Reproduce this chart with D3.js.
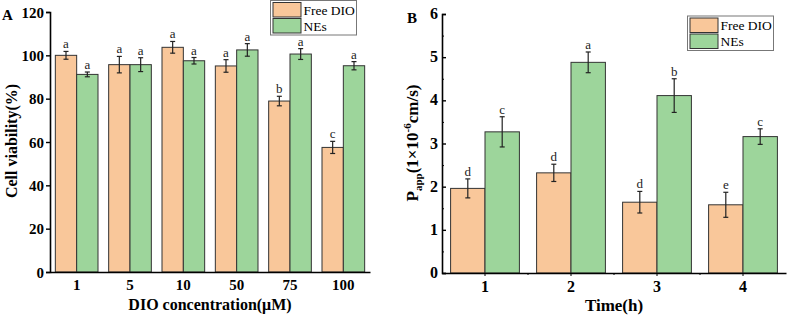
<!DOCTYPE html>
<html>
<head>
<meta charset="utf-8">
<script src="https://cdn.jsdelivr.net/npm/d3@7.9.0/dist/d3.min.js"></script>
<style>
  body { margin: 0; background: #fff; }
  svg { display: block; font-family: "Liberation Serif", "Times New Roman", serif; }
</style>
</head>
<body>
<div id="chart"></div>
<script>
// ---- data ----
const series = ["Free DIO", "NEs"];
const colors = ["#F9C79A", "#9DD59B"];

const concentrations = ["1", "5", "10", "50", "75", "100"];
const viabilityFree = [100, 95.7, 103.7, 95.1, 78.9, 57.5];
const viabilityFreeErr = [1.8, 3.8, 2.7, 2.9, 2.2, 2.8];
const viabilityNEs = [91.2, 95.7, 97.5, 102.5, 100.6, 95.2];
const viabilityNEsErr = [1.1, 3.2, 1.5, 2.9, 2.5, 1.9];
const viabilityFreeSig = ["a", "a", "a", "a", "b", "c"];
const viabilityNEsSig = ["a", "a", "a", "a", "a", "a"];
const viabilityTicks = [0, 20, 40, 60, 80, 100, 120];

const times = ["1", "2", "3", "4"];
const pappFree = [1.96, 2.32, 1.64, 1.58];
const pappFreeErr = [0.22, 0.2, 0.25, 0.29];
const pappNEs = [3.27, 4.88, 4.11, 3.16];
const pappNEsErr = [0.35, 0.24, 0.39, 0.18];
const pappFreeSig = ["d", "d", "d", "e"];
const pappNEsSig = ["c", "a", "b", "c"];
const pappTicks = [0, 1, 2, 3, 4, 5, 6];

const svg = d3.select("#chart").append("svg")
    .attr("width", 787)
    .attr("height", 316);

function rows(cats, v1, e1, s1, v2, e2, s2) {
    return cats.map((c, i) => ({
        cat: c,
        vals: [
            { key: series[0], value: v1[i], err: e1[i], sig: s1[i] },
            { key: series[1], value: v2[i], err: e2[i], sig: s2[i] }
        ]
    }));
}

function drawPanel(opt) {
    const g = svg.append("g");
    const x0 = d3.scaleBand()
        .domain(opt.data.map(d => d.cat))
        .range([opt.left, opt.right])
        .paddingInner(0.2)
        .paddingOuter(0.1);
    const x1 = d3.scaleBand()
        .domain(series)
        .range([0, x0.bandwidth()]);
    const y = d3.scaleLinear()
        .domain(opt.yDomain)
        .range([opt.bottom, opt.top]);

    const groups = g.selectAll(".grp")
        .data(opt.data)
        .join("g")
        .attr("transform", d => `translate(${x0(d.cat)},0)`);

    groups.selectAll("rect")
        .data(d => d.vals)
        .join("rect")
        .attr("x", d => x1(d.key))
        .attr("y", d => y(d.value))
        .attr("width", x1.bandwidth())
        .attr("height", d => y(0) - y(d.value))
        .attr("fill", (d, i) => colors[i])
        .attr("stroke", "#333")
        .attr("stroke-width", 1);

    // error bars
    const eb = groups.selectAll(".eb")
        .data(d => d.vals)
        .join("g")
        .attr("stroke", "#222")
        .attr("stroke-width", 1.2);
    const cx = d => x1(d.key) + x1.bandwidth() / 2;
    eb.append("line")
        .attr("x1", cx).attr("x2", cx)
        .attr("y1", d => y(d.value + d.err))
        .attr("y2", d => y(d.value - d.err));
    eb.append("line")
        .attr("x1", d => cx(d) - 2.5).attr("x2", d => cx(d) + 2.5)
        .attr("y1", d => y(d.value + d.err))
        .attr("y2", d => y(d.value + d.err));
    eb.append("line")
        .attr("x1", d => cx(d) - 2.5).attr("x2", d => cx(d) + 2.5)
        .attr("y1", d => y(d.value - d.err))
        .attr("y2", d => y(d.value - d.err));

    // significance letters
    groups.selectAll(".sig")
        .data(d => d.vals)
        .join("text")
        .attr("x", cx)
        .attr("y", d => y(d.value + d.err) - 3)
        .attr("text-anchor", "middle")
        .attr("font-size", "13px")
        .attr("fill", "#222")
        .text(d => d.sig);

    // axes
    const yAxis = g.append("g")
        .attr("transform", `translate(${opt.left},0)`)
        .call(opt.yIn
            ? d3.axisRight(y).tickValues(opt.yTicks).tickSize(4).tickFormat("")
            : d3.axisLeft(y).tickValues(opt.yTicks).tickSize(4).tickFormat(d3.format("d")));
    yAxis.select(".domain").attr("stroke-width", 1.6);
    yAxis.selectAll(".tick line").attr("stroke-width", 1.4);
    if (opt.yIn) {
        // minor ticks
        g.append("g")
            .attr("transform", `translate(${opt.left},0)`)
            .call(d3.axisRight(y).tickValues(d3.range(0.5, 6, 1)).tickSize(2).tickFormat(""))
            .call(a => a.select(".domain").remove());
        g.append("g").selectAll("text")
            .data(opt.yTicks)
            .join("text")
            .attr("x", opt.left - 4)
            .attr("y", d => y(d) + 5)
            .attr("text-anchor", "end")
            .attr("font-size", opt.tickSize)
            .attr("font-weight", "bold")
            .text(d => d);
    } else {
        yAxis.selectAll(".tick text")
            .attr("font-size", opt.tickSize)
            .attr("font-weight", "bold")
            .attr("font-family", "Liberation Serif")
            .attr("fill", "#000")
            .attr("x", -6)
            .attr("dy", "0.35em");
    }

    const xAxis = g.append("g")
        .attr("transform", `translate(0,${opt.bottom})`)
        .call(d3.axisBottom(x0).tickSize(opt.xTick).tickSizeOuter(0));
    xAxis.select(".domain").attr("stroke-width", 1.6);
    xAxis.selectAll(".tick text")
        .attr("font-size", opt.tickSize)
        .attr("font-weight", "bold")
        .attr("font-family", "Liberation Serif")
        .attr("fill", "#000")
        .attr("y", opt.xLabelY)
        .attr("dy", 0);
    if (opt.xTick > 0) {
        xAxis.selectAll(".minor")
            .data(opt.data.slice(1))
            .join("line")
            .attr("x1", d => x0(d.cat) - x0.step() * 0.1)
            .attr("x2", d => x0(d.cat) - x0.step() * 0.1)
            .attr("y1", 0).attr("y2", 2)
            .attr("stroke", "#000");
    }

    // axis titles
    g.append("text")
        .attr("x", (opt.left + opt.right) / 2)
        .attr("y", opt.xTitleY)
        .attr("text-anchor", "middle")
        .attr("font-size", opt.titleSize)
        .attr("font-weight", "bold")
        .text(opt.xTitle);

    const yt = g.append("text")
        .attr("transform", `translate(${opt.yTitleX},${opt.yTitleY}) rotate(-90)`)
        .attr("text-anchor", "middle")
        .attr("font-size", opt.titleSize)
        .attr("font-weight", "bold");
    opt.yTitle(yt);

    // panel letter
    g.append("text")
        .attr("x", opt.letterX)
        .attr("y", opt.letterY)
        .attr("font-size", "15px")
        .attr("font-weight", "bold")
        .text(opt.letter);

    // legend
    const lg = g.append("g")
        .attr("transform", `translate(${opt.legend[0]},${opt.legend[1]})`);
    lg.append("rect")
        .attr("width", 86).attr("height", 34.5)
        .attr("fill", "#fff")
        .attr("stroke", "#777")
        .attr("stroke-width", 1);
    series.forEach((s, i) => {
        lg.append("rect")
            .attr("x", 2.5).attr("y", 2 + i * 16)
            .attr("width", 28).attr("height", 14.5)
            .attr("fill", colors[i])
            .attr("stroke", "#333");
        lg.append("text")
            .attr("x", 33).attr("y", 14 + i * 16)
            .attr("font-size", "13.5px")
            .text(s);
    });
}

drawPanel({
    data: rows(concentrations, viabilityFree, viabilityFreeErr, viabilityFreeSig,
               viabilityNEs, viabilityNEsErr, viabilityNEsSig),
    left: 50, right: 370, top: 12, bottom: 272,
    yDomain: [0, 120], yTicks: viabilityTicks, yIn: false,
    xTick: 0, xLabelY: 18, tickSize: "15px", titleSize: "16px",
    xTitle: "DIO concentration(\u03bcM)", xTitleY: 310,
    yTitleX: 17, yTitleY: 141,
    yTitle: t => t.text("Cell viability(%)"),
    letter: "A", letterX: 2, letterY: 20,
    legend: [270.5, 0.5]
});

drawPanel({
    data: rows(times, pappFree, pappFreeErr, pappFreeSig,
               pappNEs, pappNEsErr, pappNEsSig),
    left: 442, right: 786, top: 14, bottom: 273,
    yDomain: [0, 6], yTicks: pappTicks, yIn: true,
    xTick: 3, xLabelY: 19, tickSize: "16px", titleSize: "17px",
    xTitle: "Time(h)", xTitleY: 311,
    yTitleX: 418, yTitleY: 143,
    yTitle: t => {
        t.append("tspan").text("P");
        t.append("tspan").attr("font-size", "11px").attr("dy", 4).text("app");
        t.append("tspan").attr("dy", -4).text("(1\u00d710");
        t.append("tspan").attr("font-size", "11px").attr("dy", -7).text("-6");
        t.append("tspan").attr("dy", 7).text("cm/s)");
    },
    letter: "B", letterX: 407, letterY: 23,
    legend: [687.5, 16]
});
</script>
</body>
</html>
